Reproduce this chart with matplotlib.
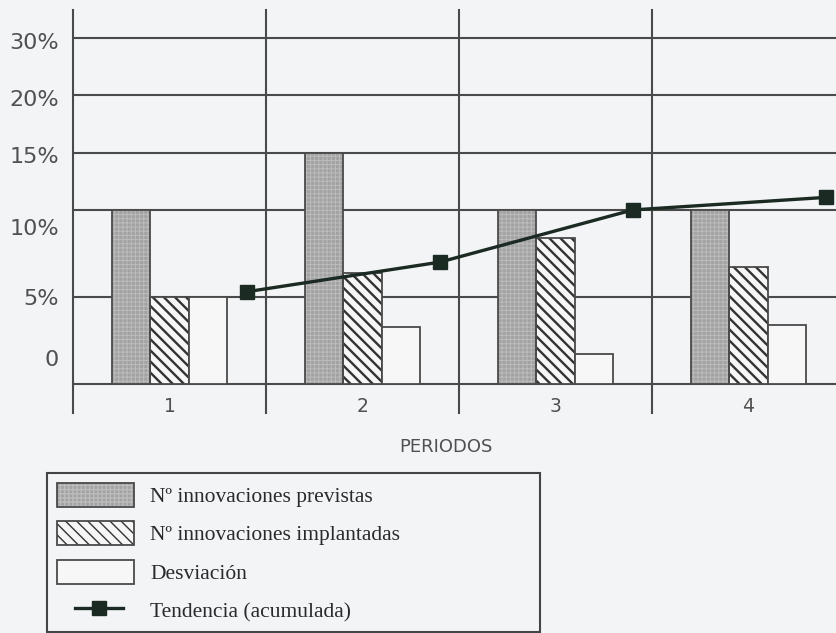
import matplotlib

matplotlib.use("Agg")
import matplotlib.pyplot as plt
import numpy as np
from matplotlib.legend_handler import HandlerLine2D, HandlerTuple
from matplotlib.lines import Line2D
from matplotlib.patches import Patch

# valores por periodo (%)
periodos = ["1", "2", "3", "4"]
previstas = [10, 15, 10, 10]
implantadas = [5, 6.4, 8.4, 6.7]
desviacion = [5, 3.3, 1.7, 3.4]
tendencia = [5.3, 7.0, 10.0, 11.1]

grid_values = [5, 10, 15, 20, 30]
y_labels = ["0", "5%", "10%", "15%", "20%", "30%"]
y_label_at = [1.5, 5, 9.0, 14.8, 19.7, 29.4]

# eje vertical no lineal: 0-10 % ocupa mas altura que el tramo superior
scale_values = [0, 5, 10, 15, 20, 30, 40]
scale_steps = [0, 1, 2, 2.655, 3.322, 3.977, 4.64]

BG = "#f3f4f6"
LINE = "#4a4a4a"
TEXT = "#505050"
TREND = "#1b2a23"


def forward(v):
    return np.interp(v, scale_values, scale_steps)


def inverse(p):
    return np.interp(p, scale_steps, scale_values)


class ShortLineHandler(HandlerLine2D):
    """Legend line that does not span the whole handle box."""

    def get_xdata(self, legend, xdescent, ydescent, width, height, fontsize):
        x = [-xdescent + 0.24 * width, -xdescent + 0.85 * width]
        return x, [-xdescent + 0.545 * width]


fig = plt.figure(figsize=(8.37, 6.33), dpi=100, facecolor=BG)
ax = fig.add_axes([73 / 837, 249 / 633, 764 / 837, 374 / 633])
ax.set_facecolor("none")
ax.set_yscale("function", functions=(forward, inverse))
ax.set_ylim(0, 34.83)
ax.set_xlim(0, 764 / 193)

x = np.arange(len(periodos))
w = 0.2

for v in grid_values:
    ax.axhline(v, color=LINE, lw=1.5, zorder=1)
ax.axhline(0, color=LINE, lw=1.5, zorder=1, clip_on=False)
for xv in range(len(periodos)):
    ax.axvline(xv, ymin=-29 / 374, ymax=1, color=LINE, lw=1.5, zorder=1, clip_on=False)


def hatched_bars(pos, vals, face, hatch, hatch_color, hatch_lw):
    with plt.rc_context({"hatch.linewidth": hatch_lw}):
        b = ax.bar(pos, vals, w, color=face, edgecolor=hatch_color, lw=0,
                   hatch=hatch, zorder=2)
        for p in b:
            if hasattr(p, "set_hatch_linewidth"):
                p.set_hatch_linewidth(hatch_lw)
    ax.bar(pos, vals, w, facecolor="none", edgecolor=LINE, lw=1.3, zorder=3)
    with plt.rc_context({"hatch.linewidth": hatch_lw}):
        h = Patch(facecolor=face, edgecolor=hatch_color, lw=0, hatch=hatch)
        if hasattr(h, "set_hatch_linewidth"):
            h.set_hatch_linewidth(hatch_lw)
    return (h, Patch(facecolor="none", edgecolor=LINE, lw=1.3))


h_prev = hatched_bars(x + 0.3, previstas, "#a2a2a2", "++++", "#bcbcbc", 0.7)
h_impl = hatched_bars(x + 0.5, implantadas, "#f6f6f6", "\\\\\\", "#333333", 1.7)
ax.bar(x + 0.7, desviacion, w, color="#f7f7f8", edgecolor=LINE, lw=1.3, zorder=3)
h_desv = Patch(facecolor="#f7f7f8", edgecolor=LINE, lw=1.3)

ax.plot(x + 0.9, tendencia, color=TREND, lw=2.4, marker="s", ms=10,
        zorder=5, clip_on=False)
h_tend = Line2D([], [], color=TREND, lw=2.4, marker="s", ms=10)

for s in ax.spines.values():
    s.set_visible(False)
ax.set_yticks(y_label_at, y_labels)
ax.set_xticks(x + 0.5, periodos)
ax.tick_params(axis="y", length=0, pad=10, labelsize=16, labelcolor=TEXT)
ax.tick_params(axis="x", length=0, pad=9, labelsize=13.5, labelcolor=TEXT)
ax.minorticks_off()

fig.text(446 / 837, 1 - 447 / 633, "PERIODOS", ha="center", va="center",
         fontsize=13, color=TEXT)

leg = fig.legend(
    [h_prev, h_impl, h_desv, h_tend],
    ["Nº innovaciones previstas", "Nº innovaciones implantadas", "Desviación",
     "Tendencia (acumulada)"],
    handler_map={tuple: HandlerTuple(ndivide=1, pad=0), Line2D: ShortLineHandler()},
    loc="upper left",
    bbox_to_anchor=(47 / 837, 1 - 473 / 633, 493 / 837, 0.0),
    mode="expand",
    prop={"family": "Liberation Serif", "size": 15.5},
    handlelength=3.6,
    handleheight=1.34,
    handletextpad=0.75,
    labelspacing=0.66,
    borderpad=0.45,
    borderaxespad=0,
    fancybox=False,
    framealpha=1,
    facecolor=BG,
    edgecolor="#444444",
)
leg.get_frame().set_linewidth(1.5)
for t in leg.get_texts():
    t.set_color("#2a2a2a")

fig.savefig("out.png", dpi=100, facecolor=BG)
